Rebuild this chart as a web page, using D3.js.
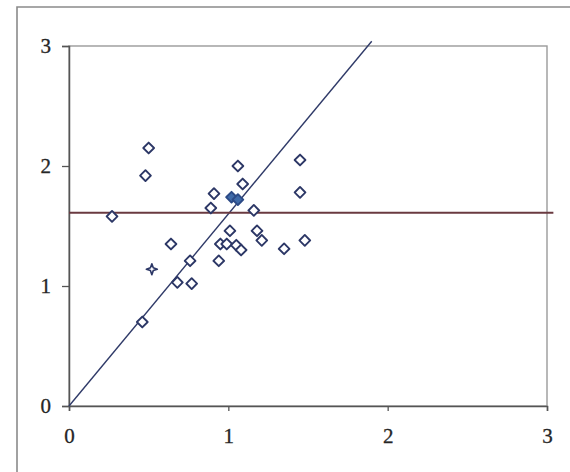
<!DOCTYPE html>
<html>
<head>
<meta charset="utf-8">
<script src="https://cdn.jsdelivr.net/npm/d3@7"></script>
<style>
  html, body { margin: 0; padding: 0; background: #fff; }
  svg { display: block; }
</style>
</head>
<body>
<script>
// Observations (x, y)
const openPoints = [
  [0.50, 2.15], [0.48, 1.92], [0.27, 1.58], [1.06, 2.00], [1.45, 2.05],
  [1.09, 1.85], [0.91, 1.77], [1.45, 1.78], [0.89, 1.65], [1.16, 1.63],
  [1.01, 1.46], [1.18, 1.46], [1.21, 1.38], [1.48, 1.38], [0.64, 1.35],
  [0.95, 1.35], [0.99, 1.35], [1.05, 1.34], [1.08, 1.30], [1.35, 1.31],
  [0.76, 1.21], [0.94, 1.21], [0.68, 1.03], [0.77, 1.02], [0.46, 0.70]
];
const filledPoints = [[1.02, 1.74], [1.06, 1.72]];
const crossPoints = [[0.52, 1.14]];

// Reference lines: proportional line y = slope * x and constant level
const slope = 1.6;
const lineXMax = 1.9;
const level = 1.61;
const levelXMax = 3.04;

const xTicks = [0, 1, 2, 3];
const yTicks = [0, 1, 2, 3];

const W = 570, H = 472;
const plot = { left: 69, top: 46, right: 547, bottom: 406 };
const FONT = "'Liberation Serif', 'Times New Roman', serif";

const svg = d3.select("body").append("svg").attr("width", W).attr("height", H);

// outer frame (runs off the right and bottom edges)
svg.append("path")
  .attr("d", `M17,${H + 5} L17,7 L${W + 5},7`)
  .attr("fill", "none").attr("stroke", "#8a8a8a").attr("stroke-width", 1.6);

const x = d3.scaleLinear().domain([0, 3]).range([plot.left, plot.right]);
const y = d3.scaleLinear().domain([0, 3]).range([plot.bottom, plot.top]);

// plot frame
svg.append("rect")
  .attr("x", plot.left).attr("y", plot.top)
  .attr("width", plot.right - plot.left).attr("height", plot.bottom - plot.top)
  .attr("fill", "none").attr("stroke", "#9a9a9a").attr("stroke-width", 1.4);

// axes
const xAxis = svg.append("g").attr("transform", `translate(0,${plot.bottom})`)
  .call(d3.axisBottom(x).tickValues(xTicks).tickFormat(d3.format("d")).tickSizeOuter(0).tickSize(5).tickPadding(17));
const yAxis = svg.append("g").attr("transform", `translate(${plot.left},0)`)
  .call(d3.axisLeft(y).tickValues(yTicks).tickFormat(d3.format("d")).tickSizeOuter(0).tickSize(7).tickPadding(11));

[xAxis, yAxis].forEach(g => {
  g.attr("font-family", FONT).attr("font-size", 21);
  g.select(".domain").attr("stroke", "#555").attr("stroke-width", 1.5);
  g.selectAll(".tick line").attr("stroke", "#555").attr("stroke-width", 1.3);
  g.selectAll(".tick text").attr("fill", "#262626")
    .attr("stroke", "#262626").attr("stroke-width", 0.3);
});

// proportional line
svg.append("line")
  .attr("x1", x(0)).attr("y1", y(0))
  .attr("x2", x(lineXMax)).attr("y2", y(slope * lineXMax))
  .attr("stroke", "#2f3a68").attr("stroke-width", 1.4);

// constant level
svg.append("line")
  .attr("x1", x(0)).attr("y1", y(level))
  .attr("x2", x(levelXMax)).attr("y2", y(level))
  .attr("stroke", "#6a3a40").attr("stroke-width", 2);

// markers
const diamond = d3.symbol().type(d3.symbolSquare).size(58);
svg.append("g").selectAll("path").data(openPoints).join("path")
  .attr("d", diamond)
  .attr("transform", d => `translate(${x(d[0])},${y(d[1])}) rotate(45)`)
  .attr("fill", "#fff").attr("stroke", "#2c3766").attr("stroke-width", 1.9)
  .attr("stroke-linejoin", "round");

svg.append("g").selectAll("path").data(filledPoints).join("path")
  .attr("d", diamond)
  .attr("transform", d => `translate(${x(d[0])},${y(d[1])}) rotate(45)`)
  .attr("fill", "#3f6aa8").attr("stroke", "#2c4a86").attr("stroke-width", 1.9)
  .attr("stroke-linejoin", "round");

// small four-pointed star marker
function star4(r, inner) {
  const p = d3.path();
  for (let i = 0; i < 8; i++) {
    const a = i * Math.PI / 4 - Math.PI / 2;
    const rr = i % 2 === 0 ? r : inner;
    const px = rr * Math.cos(a), py = rr * Math.sin(a);
    if (i === 0) p.moveTo(px, py); else p.lineTo(px, py);
  }
  p.closePath();
  return p.toString();
}
svg.append("g").selectAll("path").data(crossPoints).join("path")
  .attr("d", star4(5.5, 2))
  .attr("transform", d => `translate(${x(d[0])},${y(d[1])})`)
  .attr("fill", "#fff").attr("stroke", "#2c3766").attr("stroke-width", 1.6)
  .attr("stroke-linejoin", "round");
</script>
</body>
</html>
